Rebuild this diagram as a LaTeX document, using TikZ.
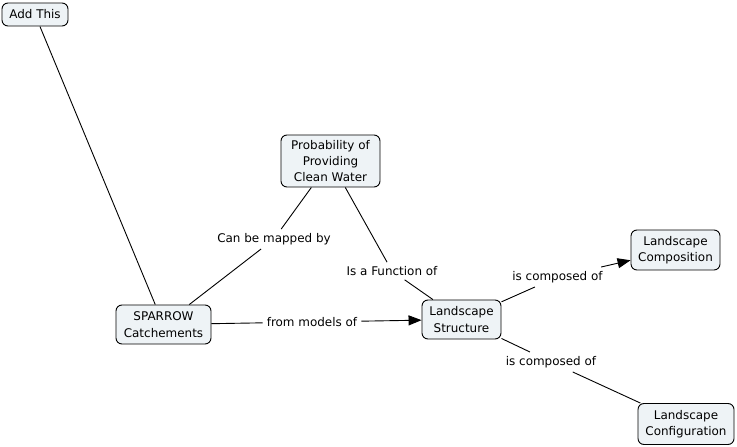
\documentclass[tikz,border=0pt]{standalone}
\usepackage{fontspec}
\setmainfont{DejaVu Sans}
\usetikzlibrary{arrows.meta}
\definecolor{boxfill}{HTML}{EEF3F6}
\begin{document}
\begin{tikzpicture}[x=1bp,y=-1bp,
  concept/.style={draw, line width=0.9bp, rounded corners=6bp, fill=boxfill, align=center,
    font=\fontsize{12}{16.5}\selectfont, inner sep=0pt},
  lbl/.style={font=\fontsize{12}{16.5}\selectfont, inner sep=4bp},
  link/.style={line width=0.9bp},
  arr/.style={link, -{Triangle[length=13bp,width=10bp]}}]
\useasboundingbox (0,0) rectangle (737,447);
\node[concept, minimum width=66bp, minimum height=23bp] (add) at (35,14.5) {Add This};
\node[concept, minimum width=99bp, minimum height=52bp] (prob) at (330.5,161) {Probability of\\Providing\\Clean Water};
\node[concept, minimum width=95bp, minimum height=39bp] (spar) at (163.5,324.5) {SPARROW\\Catchements};
\node[concept, minimum width=79bp, minimum height=39bp] (struct) at (461.5,319.5) {Landscape\\Structure};
\node[concept, minimum width=89bp, minimum height=40bp] (comp) at (675.5,250) {Landscape\\Composition};
\node[concept, minimum width=96bp, minimum height=41bp] (conf) at (686,424) {Landscape\\Configuration};

\node[lbl] (l1) at (274,239) {Can be mapped by};
\node[lbl] (l2) at (392,271) {Is a Function of};
\node[lbl] (l3) at (312,322) {from models of};
\node[lbl] (l4) at (557.5,277) {is composed of};
\node[lbl] (l5) at (551,362) {is composed of};

\draw[link] (add) -- (spar);
\draw[link] (spar) -- (l1);
\draw[link] (l1) -- (prob);
\draw[link] (prob) -- (l2);
\draw[link] (l2) -- (struct);
\draw[link] (spar) -- (l3);
\draw[arr] (l3) -- (struct);
\draw[link] (struct) -- (l4);
\draw[arr] (l4) -- (comp);
\draw[link] (struct) -- (l5);
\draw[link] (l5) -- (conf);
\end{tikzpicture}
\end{document}
